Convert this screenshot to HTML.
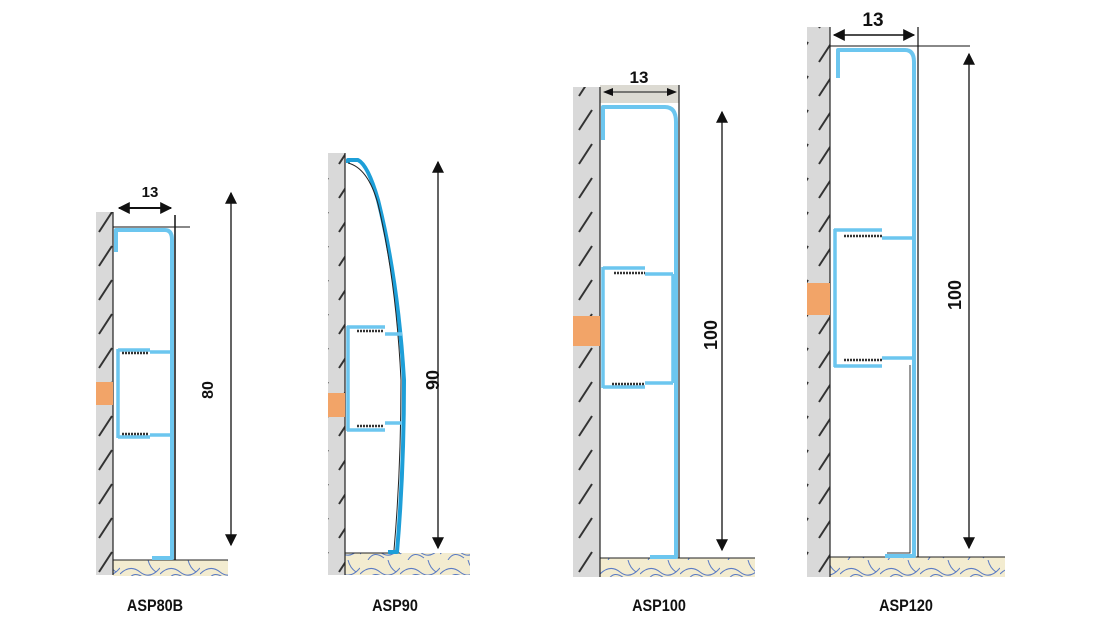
<!DOCTYPE html>
<html><head><meta charset="utf-8"><style>
html,body{margin:0;padding:0;background:#fff;}
svg{display:block;}
text{font-family:"Liberation Sans",sans-serif;font-weight:bold;fill:#111;}
</style></head><body>
<svg width="1100" height="620" viewBox="0 0 1100 620" xmlns="http://www.w3.org/2000/svg">
<defs>
<pattern id="hatch" width="24" height="34" patternUnits="userSpaceOnUse">
<rect width="24" height="34" fill="#d9d9d9"/>
<line x1="3" y1="28" x2="16" y2="8" stroke="#333" stroke-width="2"/>
</pattern>
<pattern id="floor" width="40" height="20" patternUnits="userSpaceOnUse">
<rect width="40" height="20" fill="#f3ecd0"/>
<path d="M0 14 Q10 4 20 12 T40 8 M8 20 Q14 10 24 18 M28 0 Q30 8 36 12" fill="none" stroke="#5a7bc4" stroke-width="1"/>
</pattern>
<marker id="ah" viewBox="0 0 10 10" refX="9" refY="5" markerWidth="10" markerHeight="10" markerUnits="userSpaceOnUse" orient="auto-start-reverse">
<path d="M0 1 L10 5 L0 9 z" fill="#111"/>
</marker>
<marker id="ahb" viewBox="0 0 10 10" refX="9" refY="5" markerWidth="14" markerHeight="12" markerUnits="userSpaceOnUse" orient="auto-start-reverse">
<path d="M0 0 L10 5 L0 10 z" fill="#111"/>
</marker>
</defs>
<g stroke-linejoin="round">
<!-- ASP80B -->
<rect x="96" y="212" width="17" height="363" fill="url(#hatch)"/>
<rect x="113" y="560" width="115" height="16" fill="url(#floor)"/>
<line x1="113" y1="212" x2="113" y2="575" stroke="#222" stroke-width="1.2"/>
<line x1="113" y1="560" x2="228" y2="560" stroke="#222"/>
<rect x="96" y="382" width="17" height="23" fill="#f2a468"/>
<path d="M116 252 V230 H165 Q172 230 172 240 V558 H152" fill="none" stroke="#6cc6ef" stroke-width="4"/>
<path d="M118 350 H150 M118 437 H150 M118 349 V438 M150 352 H170 M150 435 H170" fill="none" stroke="#6cc6ef" stroke-width="3.5"/>
<path d="M122 353 H148 M122 434 H148" stroke="#333" stroke-width="2.5" stroke-dasharray="2 1"/>
<line x1="175" y1="215" x2="175" y2="560" stroke="#111" stroke-width="1.5"/>
<line x1="113" y1="227" x2="190" y2="227" stroke="#111"/>
<line x1="119" y1="208" x2="171" y2="208" stroke="#111" stroke-width="2" marker-start="url(#ahb)" marker-end="url(#ahb)"/>
<text x="150" y="197" font-size="15" text-anchor="middle">13</text>
<line x1="231" y1="193" x2="231" y2="545" stroke="#111" stroke-width="1.3" marker-start="url(#ahb)" marker-end="url(#ahb)"/>
<text transform="translate(213,390) rotate(-90)" font-size="16" text-anchor="middle">80</text>
<text x="155" y="611" font-size="17" text-anchor="middle" transform="translate(155,0) scale(0.85,1) translate(-155,0)">ASP80B</text>

<!-- ASP90 -->
<rect x="328" y="153" width="17" height="422" fill="url(#hatch)"/>
<rect x="345" y="553" width="125" height="22" fill="url(#floor)"/>
<line x1="345" y1="153" x2="345" y2="575" stroke="#222" stroke-width="1.2"/>
<line x1="345" y1="553" x2="400" y2="553" stroke="#222"/>
<rect x="328" y="393" width="17" height="24" fill="#f2a468"/>
<path d="M348 163 V160 H358 Q368 165 378 200 Q398 280 404 380 Q404 470 397 552 H388" fill="none" stroke="#1e9fd8" stroke-width="4"/>
<path d="M348 163 Q368 168 378 204 Q396 280 401 380 Q401 470 394 550" fill="none" stroke="#222" stroke-width="1"/>
<path d="M347 327 H385 M347 430 H385 M348 326 V431 M385 334 H402 M385 423 H402" fill="none" stroke="#6cc6ef" stroke-width="3.5"/>
<path d="M357 331 H383 M357 426 H383" stroke="#333" stroke-width="2.5" stroke-dasharray="2 1"/>
<line x1="438" y1="162" x2="438" y2="548" stroke="#111" stroke-width="1.3" marker-start="url(#ahb)" marker-end="url(#ahb)"/>
<text transform="translate(439,380) rotate(-90)" font-size="18" text-anchor="middle">90</text>
<text x="395" y="611" font-size="17" text-anchor="middle" transform="translate(395,0) scale(0.85,1) translate(-395,0)">ASP90</text>

<!-- ASP100 -->
<rect x="573" y="87" width="27" height="490" fill="url(#hatch)"/>
<rect x="600" y="558" width="155" height="19" fill="url(#floor)"/>
<rect x="600" y="85" width="79" height="18" fill="#dcdad2"/>
<line x1="600" y1="87" x2="600" y2="577" stroke="#222" stroke-width="1.2"/>
<line x1="600" y1="558" x2="755" y2="558" stroke="#222"/>
<rect x="573" y="316" width="27" height="30" fill="#f2a468"/>
<path d="M603 140 V107 H665 Q676 107 676 122 V557 H650" fill="none" stroke="#6cc6ef" stroke-width="4"/>
<path d="M679 85 V558" stroke="#222" stroke-width="1.2"/>
<path d="M603 268 H645 M603 387 H645 M603 267 V388 M645 274 H673 M645 383 H673 M673 274 V383" fill="none" stroke="#6cc6ef" stroke-width="3.5"/>
<path d="M614 273 H645 M612 384 H645" stroke="#333" stroke-width="2.5" stroke-dasharray="2 1"/>
<line x1="604" y1="92" x2="676" y2="92" stroke="#111" stroke-width="1" marker-start="url(#ah)" marker-end="url(#ah)"/>
<text x="639" y="83" font-size="17" text-anchor="middle">13</text>
<line x1="722" y1="112" x2="722" y2="550" stroke="#111" stroke-width="1.3" marker-start="url(#ahb)" marker-end="url(#ahb)"/>
<text transform="translate(717,335) rotate(-90)" font-size="18" text-anchor="middle">100</text>
<text x="659" y="611" font-size="17" text-anchor="middle" transform="translate(659,0) scale(0.85,1) translate(-659,0)">ASP100</text>

<!-- ASP120 -->
<rect x="807" y="27" width="23" height="550" fill="url(#hatch)"/>
<rect x="830" y="557" width="175" height="20" fill="url(#floor)"/>
<line x1="830" y1="27" x2="830" y2="577" stroke="#222" stroke-width="1.2"/>
<line x1="830" y1="557" x2="1005" y2="557" stroke="#222"/>
<rect x="807" y="283" width="23" height="32" fill="#f2a468"/>
<path d="M838 78 V50 H905 Q914 50 914 62 V556 H885" fill="none" stroke="#6cc6ef" stroke-width="4"/>
<path d="M910 365 V553 H887" fill="none" stroke="#333" stroke-width="1"/>
<path d="M834 230 H882 M834 366 H882 M835 229 V367 M882 238 H912 M882 358 H912" fill="none" stroke="#6cc6ef" stroke-width="3.5"/>
<path d="M844 236 H882 M844 360 H882" stroke="#333" stroke-width="2.5" stroke-dasharray="2 1"/>
<line x1="918" y1="27" x2="918" y2="557" stroke="#111" stroke-width="1.2"/>
<line x1="830" y1="46" x2="970" y2="46" stroke="#111"/>
<line x1="834" y1="35" x2="914" y2="35" stroke="#111" stroke-width="1.5" marker-start="url(#ahb)" marker-end="url(#ahb)"/>
<text x="873" y="26" font-size="19" text-anchor="middle">13</text>
<line x1="969" y1="54" x2="969" y2="548" stroke="#111" stroke-width="1.3" marker-start="url(#ahb)" marker-end="url(#ahb)"/>
<text transform="translate(961,295) rotate(-90)" font-size="18" text-anchor="middle">100</text>
<text x="906" y="611" font-size="17" text-anchor="middle" transform="translate(906,0) scale(0.85,1) translate(-906,0)">ASP120</text>
</g>
</svg>
</body></html>
